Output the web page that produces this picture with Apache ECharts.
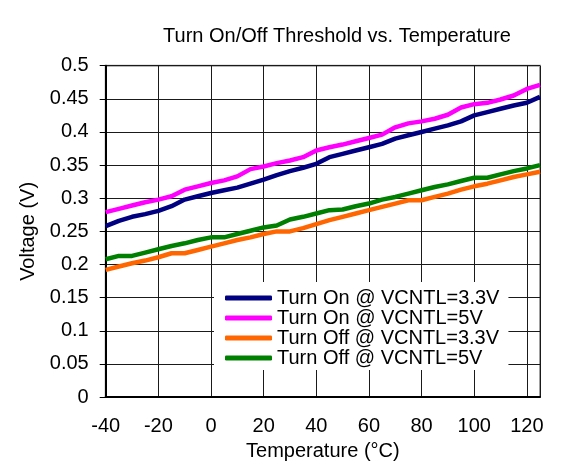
<!DOCTYPE html>
<html>
<head>
<meta charset="utf-8">
<script src="https://cdn.jsdelivr.net/npm/echarts@6/dist/echarts.min.js"></script>
<style>
html,body{margin:0;padding:0;background:#fff;}
#chart{width:570px;height:466px;}
</style>
</head>
<body>
<div id="chart"></div>
<script>
const temperatures = [-40,-35,-30,-25,-20,-15,-10,-5,0,5,10,15,20,25,30,35,40,45,50,55,60,65,70,75,80,85,90,95,100,105,110,115,120,125];
const turnOn33 = [0.258,0.266,0.272,0.276,0.281,0.288,0.298,0.303,0.308,0.312,0.316,0.322,0.328,0.335,0.341,0.346,0.352,0.362,0.367,0.372,0.377,0.382,0.390,0.395,0.400,0.405,0.410,0.416,0.425,0.430,0.435,0.440,0.444,0.453];
const turnOn5 = [0.279,0.284,0.289,0.294,0.298,0.303,0.313,0.318,0.323,0.327,0.333,0.344,0.348,0.353,0.357,0.362,0.372,0.377,0.381,0.386,0.391,0.396,0.407,0.413,0.416,0.420,0.426,0.437,0.442,0.444,0.449,0.455,0.465,0.471];
const turnOff33 = [0.192,0.197,0.202,0.206,0.211,0.217,0.217,0.222,0.227,0.232,0.237,0.241,0.246,0.250,0.250,0.255,0.261,0.267,0.272,0.277,0.282,0.287,0.292,0.297,0.297,0.302,0.307,0.313,0.318,0.322,0.327,0.332,0.336,0.340];
const turnOff5 = [0.208,0.213,0.213,0.218,0.223,0.228,0.232,0.237,0.241,0.241,0.246,0.251,0.256,0.259,0.268,0.272,0.277,0.282,0.283,0.288,0.292,0.298,0.302,0.307,0.312,0.317,0.321,0.326,0.331,0.331,0.336,0.341,0.345,0.350];
const seriesNames = ['Turn On @ VCNTL=3.3V','Turn On @ VCNTL=5V','Turn Off @ VCNTL=3.3V','Turn Off @ VCNTL=5V'];
const seriesColors = ['#000080','#ff00ff','#ff6600','#008000'];
const seriesValues = [turnOn33, turnOn5, turnOff33, turnOff5];

const font = 'Liberation Sans, Arial, sans-serif';
const chart = echarts.init(document.getElementById('chart'));
chart.setOption({
  animation: false,
  backgroundColor: '#fff',
  title: {
    text: 'Turn On/Off Threshold vs. Temperature',
    left: 332, textAlign: 'center', top: 21,
    textStyle: {fontFamily: font, fontSize: 20, fontWeight: 'normal', color: '#000'}
  },
  grid: {
    left: 105.7, top: 65.7, right: 30, bottom: 67.3,
    show: true, borderColor: '#a0a0a0', borderWidth: 2, backgroundColor: 'transparent'
  },
  legend: {
    orient: 'vertical',
    left: 214, top: 282,
    backgroundColor: '#fff',
    padding: [6, 9, 2, 11],
    itemGap: 0,
    itemWidth: 47, itemHeight: 5,
    icon: 'roundRect',
    data: seriesNames,
    textStyle: {fontFamily: font, fontSize: 20, color: '#000', lineHeight: 19.5}
  },
  xAxis: {
    type: 'value', min: -40, max: 125, interval: 20,
    name: 'Temperature (°C)', nameLocation: 'middle', nameGap: 43,
    nameTextStyle: {fontFamily: font, fontSize: 20, color: '#000'},
    axisLine: {show: true, onZero: false, lineStyle: {color: '#000', width: 2}},
    axisTick: {show: false},
    axisLabel: {showMaxLabel: false, margin: 19, fontFamily: font, fontSize: 20, color: '#000'},
    splitLine: {show: true, lineStyle: {color: '#1a1a1a', width: 1}}
  },
  yAxis: {
    type: 'value', min: 0, max: 0.5, interval: 0.05,
    name: 'Voltage (V)', nameLocation: 'middle', nameGap: 66,
    nameTextStyle: {fontFamily: font, fontSize: 20, color: '#000'},
    axisLine: {show: true, onZero: false, lineStyle: {color: '#000', width: 2}},
    axisTick: {show: true, inside: false, length: 6, lineStyle: {color: '#000'}},
    axisLabel: {margin: 17, fontFamily: font, fontSize: 20, color: '#000',
      formatter: v => String(+v.toFixed(2))},
    splitLine: {show: true, lineStyle: {color: '#1a1a1a', width: 1}}
  },
  series: seriesNames.map((name, i) => ({
    name: name,
    type: 'line',
    symbol: 'none',
    z: 3,
    data: temperatures.map((t, j) => [t, seriesValues[i][j]]),
    itemStyle: {color: seriesColors[i]},
    lineStyle: {color: seriesColors[i], width: 4.5}
  }))
});
</script>
</body>
</html>
